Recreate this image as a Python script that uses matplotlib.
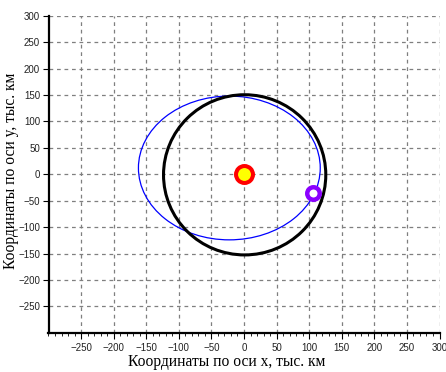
import numpy as np
import matplotlib
matplotlib.use("Agg")
import matplotlib.pyplot as plt
from matplotlib.patches import Ellipse
from matplotlib.ticker import MultipleLocator

# values (thousand km)
x_ticks = [-250, -200, -150, -100, -50, 0, 50, 100, 150, 200, 250, 300]
y_ticks = [-250, -200, -150, -100, -50, 0, 50, 100, 150, 200, 250, 300]
axis_limits = [-300, 300]

sun_x, sun_y = [0.0], [0.0]
planet_x, planet_y = [106.0], [-36.0]

# blue orbit: centre and full axes
orbit_center = (-22.5, 12.0)
orbit_axes = (279.0, 272.0)

# black circle: centre and full axes
ring_center = (1.0, -1.0)
ring_axes = (249.0, 303.0)

fig = plt.figure(figsize=(4.46, 3.72), dpi=100)
ax = fig.add_axes([48.5 / 446, 1 - 332.9 / 372, 391 / 446, 317.2 / 372])

ax.set_xlim(axis_limits)
ax.set_ylim(axis_limits)
ax.set_xticks(x_ticks)
ax.set_yticks(y_ticks)
ax.xaxis.set_minor_locator(MultipleLocator(10))

ax.grid(True, which='major', color='#7f7f7f', linestyle=(0, (3, 3)), linewidth=0.9)
ax.set_axisbelow(True)

for s in ['top', 'right']:
    ax.spines[s].set_visible(False)
for s in ['left', 'bottom']:
    ax.spines[s].set_linewidth(1.6)
    ax.spines[s].set_color('black')

ax.tick_params(axis='both', which='major', length=4, width=0.8,
               labelsize=7, labelcolor='#222222', pad=3)
ax.tick_params(axis='y', which='major', pad=2)
ax.tick_params(axis='x', which='minor', length=2, width=0.6)
for lbl in ax.get_xticklabels() + ax.get_yticklabels():
    lbl.set_family('Liberation Sans')

orbit = Ellipse(orbit_center, orbit_axes[0], orbit_axes[1],
                fill=False, edgecolor='#0000ff', linewidth=0.9, zorder=3)
ax.add_patch(orbit)

ring = Ellipse(ring_center, ring_axes[0], ring_axes[1],
               fill=False, edgecolor='black', linewidth=2.2, zorder=4)
ax.add_patch(ring)

ax.plot(sun_x, sun_y, 'o', markersize=12.2, markerfacecolor='#ffff00',
        markeredgecolor='#ff0000', markeredgewidth=2.9, zorder=5)
ax.plot(planet_x, planet_y, 'o', markersize=9, markerfacecolor='white',
        markeredgecolor='#8B00FF', markeredgewidth=3.2, zorder=5)

ax.set_xlabel("Координаты по оси x, тыс. км", family='Liberation Serif',
              fontsize=11.2)
ax.set_ylabel("Координаты по оси y, тыс. км", family='Liberation Serif',
              fontsize=11.2)
ax.xaxis.set_label_coords(0.455, -0.068)
ax.yaxis.set_label_coords(-0.075, 0.51)

fig.savefig("out.png", dpi=100)
